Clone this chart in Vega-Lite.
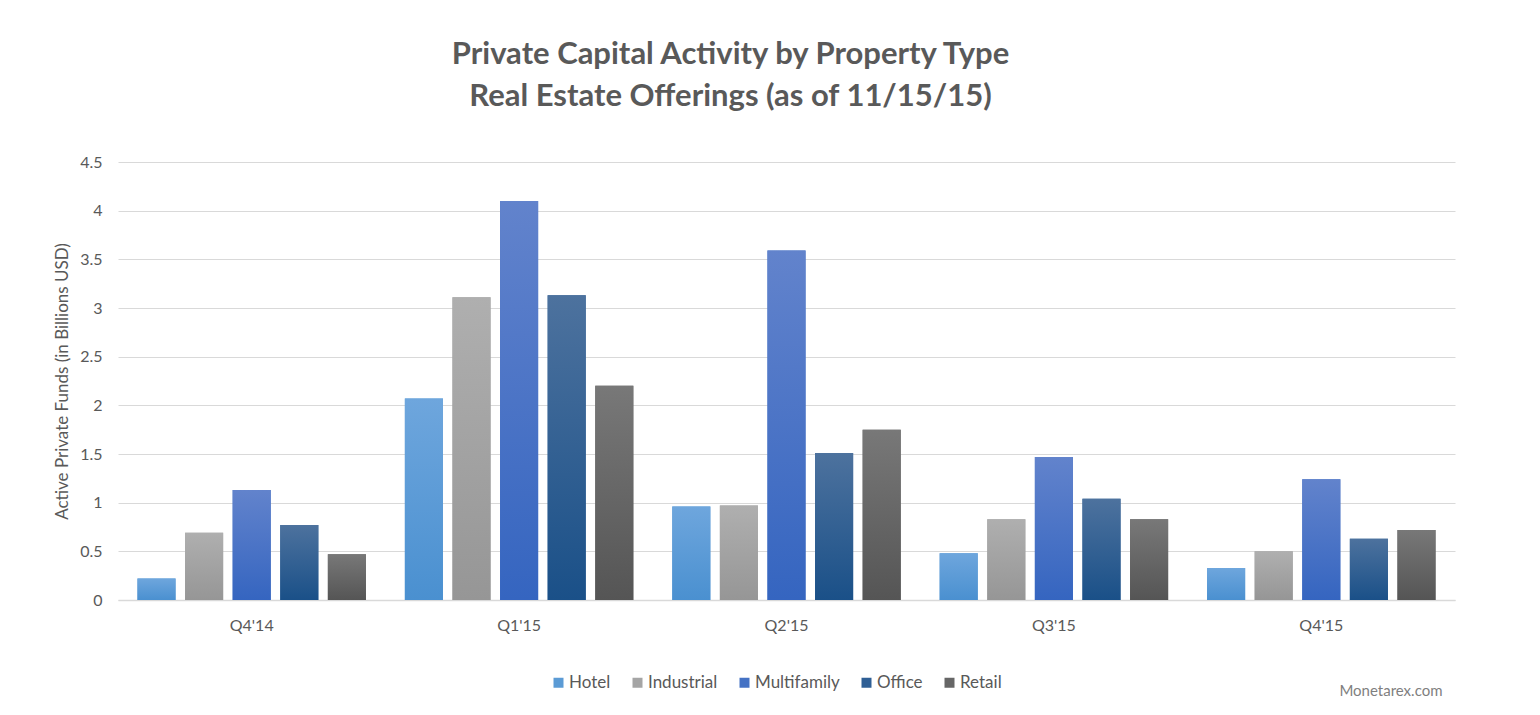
{
  "$schema": "https://vega.github.io/schema/vega-lite/v6.json",
  "width": 1337,
  "height": 438,
  "autosize": {"type": "none"},
  "padding": {"left": 118, "top": 162, "right": 85, "bottom": 115},
  "background": "#ffffff",
  "title": {
    "text": ["Private Capital Activity by Property Type", "Real Estate Offerings (as of 11/15/15)"],
    "font": "Lato",
    "fontSize": 31,
    "fontWeight": "bold",
    "color": "#595959",
    "lineHeight": 42,
    "anchor": "middle",
    "dx": -56,
    "offset": 41
  },
  "data": {
    "values": [
      {"q": "Q4'14", "type": "Hotel", "v": 0.22},
      {"q": "Q4'14", "type": "Industrial", "v": 0.69},
      {"q": "Q4'14", "type": "Multifamily", "v": 1.13},
      {"q": "Q4'14", "type": "Office", "v": 0.77},
      {"q": "Q4'14", "type": "Retail", "v": 0.47},
      {"q": "Q1'15", "type": "Hotel", "v": 2.07},
      {"q": "Q1'15", "type": "Industrial", "v": 3.11},
      {"q": "Q1'15", "type": "Multifamily", "v": 4.10},
      {"q": "Q1'15", "type": "Office", "v": 3.13},
      {"q": "Q1'15", "type": "Retail", "v": 2.20},
      {"q": "Q2'15", "type": "Hotel", "v": 0.96},
      {"q": "Q2'15", "type": "Industrial", "v": 0.97},
      {"q": "Q2'15", "type": "Multifamily", "v": 3.59},
      {"q": "Q2'15", "type": "Office", "v": 1.51},
      {"q": "Q2'15", "type": "Retail", "v": 1.75},
      {"q": "Q3'15", "type": "Hotel", "v": 0.48},
      {"q": "Q3'15", "type": "Industrial", "v": 0.83},
      {"q": "Q3'15", "type": "Multifamily", "v": 1.47},
      {"q": "Q3'15", "type": "Office", "v": 1.04},
      {"q": "Q3'15", "type": "Retail", "v": 0.83},
      {"q": "Q4'15", "type": "Hotel", "v": 0.33},
      {"q": "Q4'15", "type": "Industrial", "v": 0.50},
      {"q": "Q4'15", "type": "Multifamily", "v": 1.24},
      {"q": "Q4'15", "type": "Office", "v": 0.63},
      {"q": "Q4'15", "type": "Retail", "v": 0.72}
    ]
  },
  "encoding": {
    "x": {
      "field": "q",
      "type": "nominal",
      "sort": null,
      "scale": {"paddingInner": 0.11, "paddingOuter": 0.055},
      "axis": {
        "title": "Monetarex.com",
        "titleFont": "Lato",
        "titleFontSize": 15,
        "titleFontWeight": "normal",
        "titleColor": "#7f7f7f",
        "titleAnchor": "end",
        "titleAlign": "right",
        "titleBaseline": "middle",
        "titleX": 1324,
        "titleY": 90,
        "labelAngle": 0,
        "labelFont": "Lato",
        "labelFontSize": 16,
        "labelColor": "#595959",
        "labelPadding": 17,
        "ticks": false,
        "domainColor": "#d9d9d9",
        "domainWidth": 1.5
      }
    },
    "xOffset": {
      "field": "type",
      "type": "nominal",
      "scale": {"paddingInner": 0.2, "paddingOuter": 0.1}
    },
    "y": {
      "field": "v",
      "type": "quantitative",
      "scale": {"domain": [0, 4.5], "nice": false},
      "axis": {
        "title": "Active Private Funds (in Billions USD)",
        "titleFont": "Lato",
        "titleFontSize": 17,
        "titleFontWeight": "normal",
        "titleColor": "#595959",
        "titlePadding": 8,
        "values": [0, 0.5, 1, 1.5, 2, 2.5, 3, 3.5, 4, 4.5],
        "format": "~g",
        "labelFont": "Lato",
        "labelFontSize": 16,
        "labelColor": "#595959",
        "labelPadding": 16,
        "ticks": false,
        "domain": false,
        "gridColor": "#d9d9d9",
        "gridWidth": 1
      }
    }
  },
  "layer": [
    {
      "mark": {"type": "bar"},
      "encoding": {
        "color": {
          "field": "type",
          "type": "nominal",
          "scale": {
            "domain": ["Hotel", "Industrial", "Multifamily", "Office", "Retail"],
            "range": ["#5b9bd5", "#a5a5a5", "#4472c4", "#2f5f95", "#666666"]
          },
          "legend": {
            "title": null,
            "orient": "none",
            "direction": "horizontal",
            "legendX": 432,
            "legendY": 512,
            "symbolType": "square",
            "symbolSize": 100,
            "symbolStrokeWidth": 0,
            "labelFont": "Lato",
            "labelFontSize": 17,
            "labelColor": "#595959",
            "labelOffset": 2,
            "columnPadding": 18
          }
        }
      }
    },
    {
      "mark": {"type": "bar"},
      "encoding": {
        "fill": {
          "condition": [
            {"test": "datum.type === 'Hotel'", "value": {"gradient": "linear", "x1": 0, "y1": 0, "x2": 0, "y2": 1, "stops": [{"offset": 0, "color": "#6ea6dd"}, {"offset": 1, "color": "#4a90d0"}]}},
            {"test": "datum.type === 'Industrial'", "value": {"gradient": "linear", "x1": 0, "y1": 0, "x2": 0, "y2": 1, "stops": [{"offset": 0, "color": "#afafaf"}, {"offset": 1, "color": "#969696"}]}},
            {"test": "datum.type === 'Multifamily'", "value": {"gradient": "linear", "x1": 0, "y1": 0, "x2": 0, "y2": 1, "stops": [{"offset": 0, "color": "#6283cc"}, {"offset": 1, "color": "#3565c0"}]}},
            {"test": "datum.type === 'Office'", "value": {"gradient": "linear", "x1": 0, "y1": 0, "x2": 0, "y2": 1, "stops": [{"offset": 0, "color": "#4d729e"}, {"offset": 1, "color": "#1a5088"}]}}
          ],
          "value": {"gradient": "linear", "x1": 0, "y1": 0, "x2": 0, "y2": 1, "stops": [{"offset": 0, "color": "#787878"}, {"offset": 1, "color": "#555555"}]}
        }
      }
    }
  ],
  "config": {
    "view": {"stroke": null}
  }
}
